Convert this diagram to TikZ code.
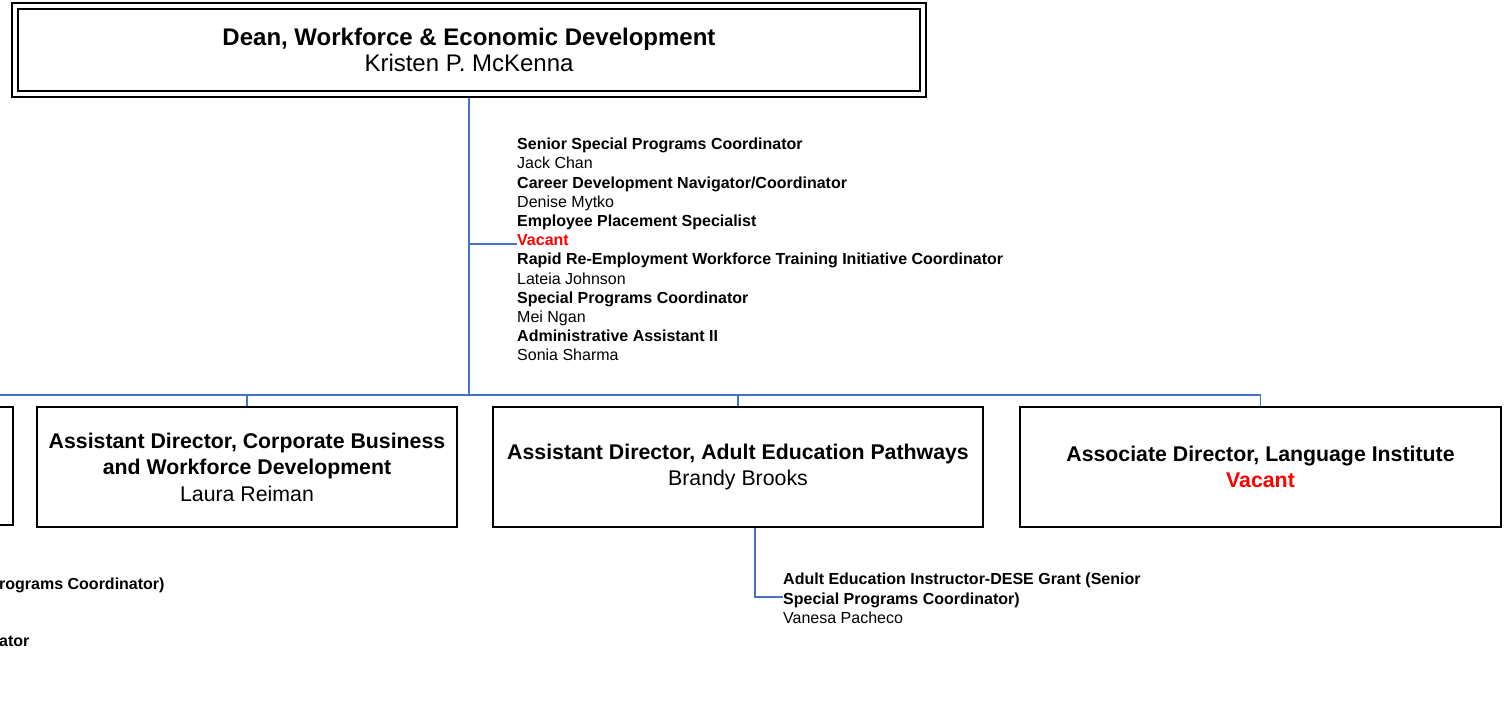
\documentclass[tikz,border=0pt]{standalone}
\usepackage{fontspec}
\setmainfont{Liberation Sans}
\definecolor{linkblue}{HTML}{4472C4}
\definecolor{vac}{HTML}{FF0000}
\begin{document}
\begin{tikzpicture}[x=1pt,y=-1pt,
  conn/.style={draw=linkblue, line width=1.6pt},
  box/.style={draw=black, line width=1.4pt, minimum height=120pt, align=center, inner sep=0pt, font=\fontsize{21.3}{26.5}\selectfont},
  stafftxt/.style={align=left, anchor=north west, inner sep=0pt, font=\fontsize{16}{19.2}\selectfont},
  parttxt/.style={anchor=base west, inner sep=0pt, font=\fontsize{16}{19.2}\selectfont\bfseries}
]
\useasboundingbox (0,0) rectangle (1505,704);
\clip (0,0) rectangle (1505,704);
% Dean box (double border)
\node[draw, line width=2.6pt, minimum width=914pt, minimum height=94pt, inner sep=0pt] (deanout) at (469,50) {};
\node[draw, line width=1.2pt, minimum width=902pt, minimum height=82pt, inner sep=0pt, align=center,
      font=\fontsize{24}{26.5}\selectfont] (dean) at (469,50)
      {\textbf{Dean, Workforce \& Economic Development}\\Kristen P. McKenna};
% staff list
\node[stafftxt] (staff) at (517,138) {%
\textbf{Senior Special Programs Coordinator}\\
Jack Chan\\
\textbf{Career Development Navigator/Coordinator}\\
Denise Mytko\\
\textbf{Employee Placement Specialist}\\
\textcolor{vac}{\textbf{Vacant}}\\
\textbf{Rapid Re-Employment Workforce Training Initiative Coordinator}\\
Lateia Johnson\\
\textbf{Special Programs Coordinator}\\
Mei Ngan\\
\textbf{Administrative Assistant II}\\
Sonia Sharma};
\coordinate (staffpt) at (517,244);
% second level boxes
\node[box, minimum width=413pt, minimum height=118pt] (b1) at (-193.5,466) {};
\node[box, minimum width=420pt] (b2) at (247,467)
  {\textbf{Assistant Director, Corporate Business}\\\textbf{and Workforce Development}\\Laura Reiman};
\node[box, minimum width=490pt] (b3) at (738,467)
  {\textbf{Assistant Director, Adult Education Pathways}\\Brandy Brooks};
\node[box, minimum width=481pt] (b4) at (1260.5,467)
  {\textbf{Associate Director, Language Institute}\\\textcolor{vac}{\textbf{Vacant}}};
% bus
\coordinate (bus) at (0,395);
\draw[conn] (deanout.south) -- (deanout.south |- bus);
\draw[conn] (deanout.south |- staffpt) -- (staffpt);
\draw[conn] (b1.north) -- (b1.north |- bus) -- (b4.north |- bus) -- (b4.north);
\draw[conn] (b2.north |- bus) -- (b2.north);
\draw[conn] (b3.north |- bus) -- (b3.north);
% sub under b3
\node[stafftxt] (sub) at (783,573) {%
\textbf{Adult Education Instructor-DESE Grant (Senior}\\
\textbf{Special Programs Coordinator)}\\
Vanesa Pacheco};
\coordinate (subpt) at (783,597);
\draw[conn] ([xshift=17pt]b3.south) |- (subpt);
% partial texts at left edge
\node[parttxt] (l1) at (-1,589.8) {rograms Coordinator)};
\node[parttxt] (l2) at (-1,646.8) {ator};
\end{tikzpicture}
\end{document}
